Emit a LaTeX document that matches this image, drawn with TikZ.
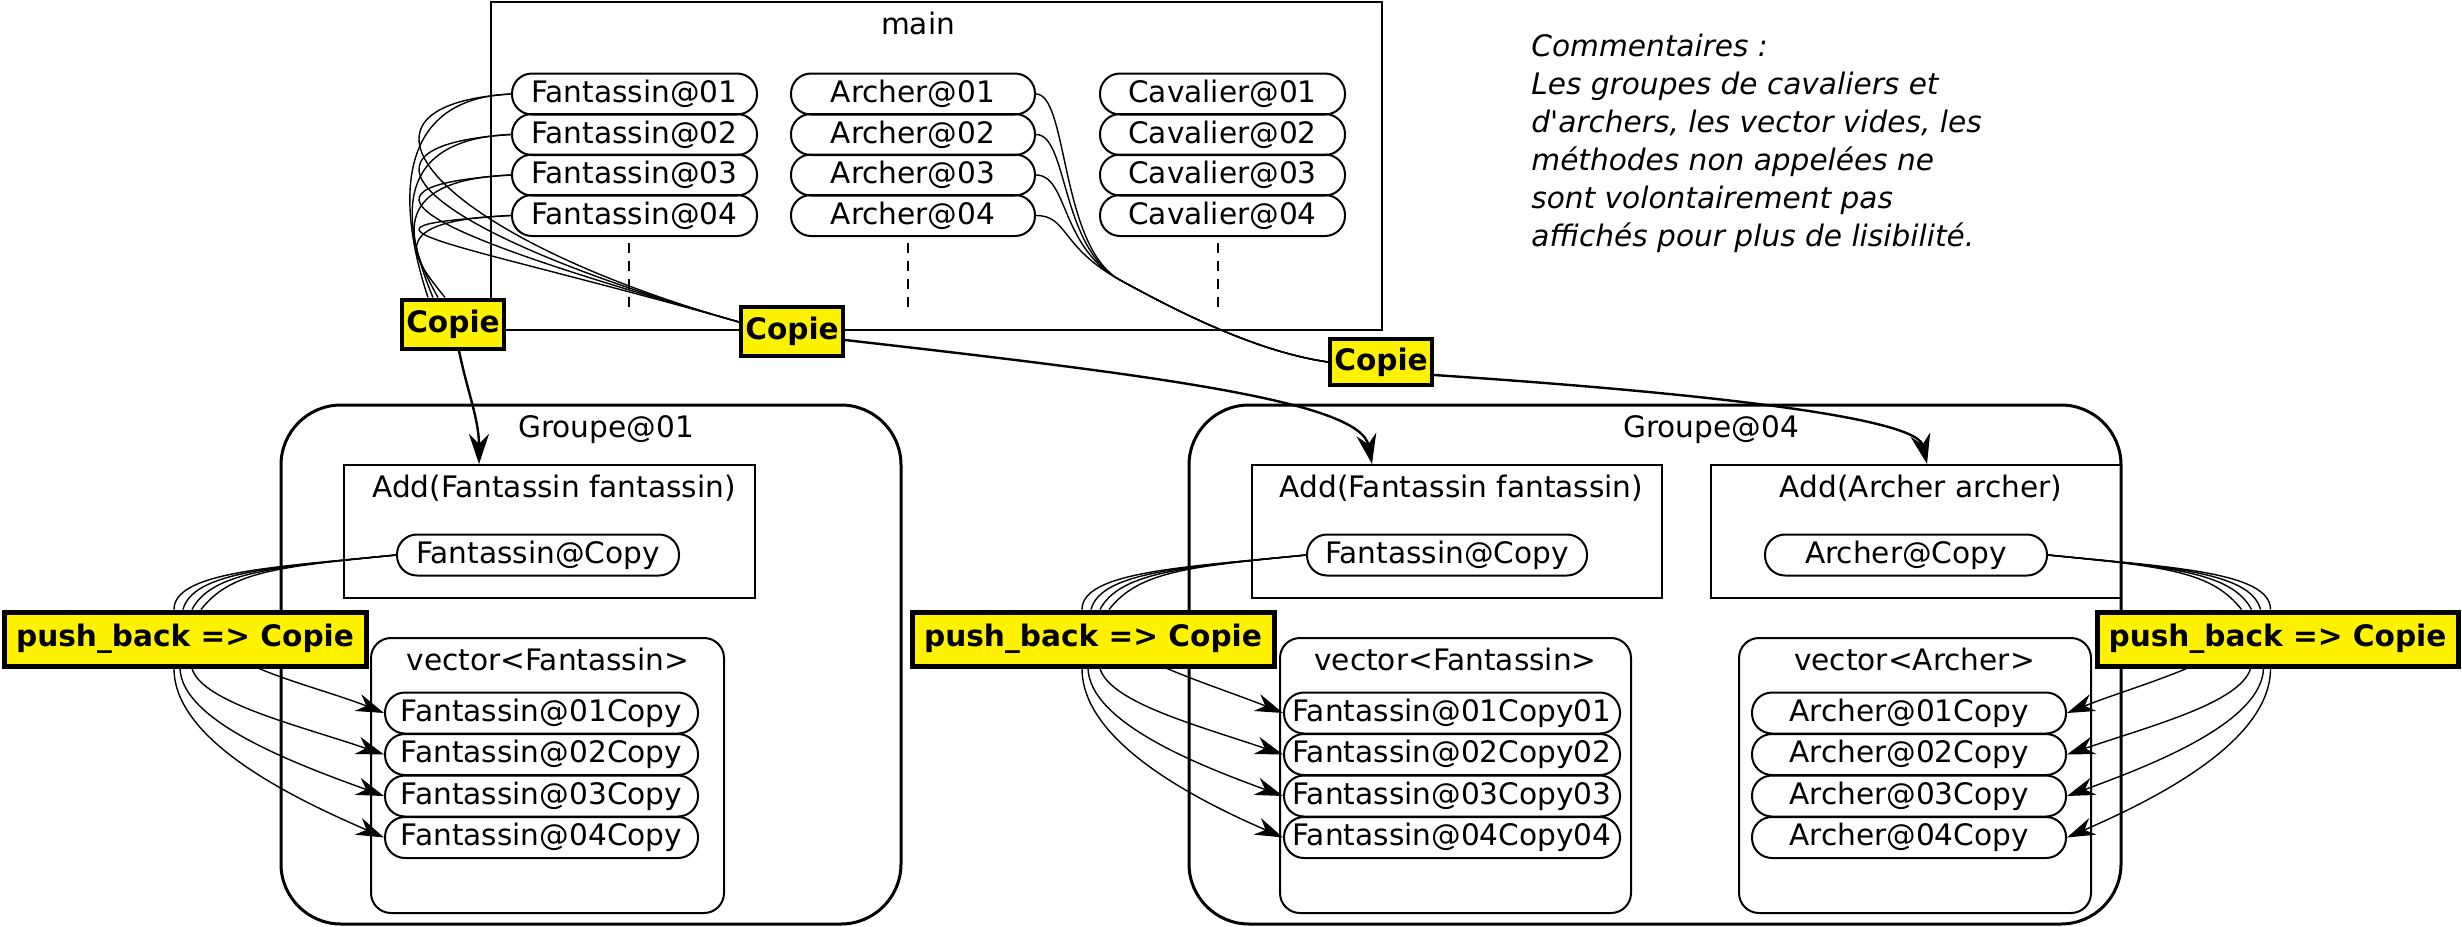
\documentclass[tikz,border=0pt]{standalone}
\usepackage{fontspec}
\setmainfont{DejaVu Sans}
\usetikzlibrary{arrows.meta,positioning,calc}
\newcommand{\diagfont}{\fontsize{14.8}{19}\selectfont}
\tikzset{pill/.style={draw,line width=1pt,rounded corners=10pt,minimum height=20.5pt,inner sep=1pt},
  box/.style={draw,line width=1pt},
  grp/.style={draw,line width=1.5pt,rounded corners=30pt},
  vec/.style={draw,line width=1pt,rounded corners=10pt},
  tag/.style={draw,line width=2pt,fill=yellow,font=\diagfont\bfseries,inner sep=1pt},
  wire/.style={line width=.7pt},
  feed/.style={line width=1.2pt,-{Stealth[length=15pt,width=10pt,inset=5pt]}},
  flow/.style={line width=.7pt,-{Stealth[length=14pt,width=9pt,inset=4.5pt]}}}

\begin{document}
\begin{tikzpicture}[x=.5pt,y=-.5pt,font=\diagfont]
\useasboundingbox (0,0) rectangle (2462,926);
% main and its soldiers
\node[box,line width=1.2pt,minimum width=445.5pt,minimum height=164pt] (main) at (936.5,166) {};
\node (mainname) at (918,23) {main};
\foreach \i in {1,...,4}{
  \node[pill,minimum width=122.5pt] (f\i) at (634.5,{94+40.5*(\i-1)}) {Fantassin@0\i};
  \node[pill,minimum width=122pt] (a\i) at (913,{94+40.5*(\i-1)}) {Archer@0\i};
  \node[pill,minimum width=122.5pt] (c\i) at (1222.5,{94+40.5*(\i-1)}) {Cavalier@0\i};
}
\foreach \x in {629,908,1218}
  \draw[line width=1pt,dash pattern=on 5pt off 4pt] (\x,243) -- (\x,314);

% Groupe@01 and Groupe@04
\node[grp,minimum width=310pt,minimum height=259.5pt] (grpA) at (591,664.5) {};
\node (grpAname) at (606,430) {Groupe@01};
\node[grp,minimum width=466pt,minimum height=259.5pt] (grpB) at (1655,664.5) {};
\node (grpBname) at (1711,430) {Groupe@04};

% Add methods
\node[box,minimum width=205.5pt,minimum height=66.5pt] (addA) at (549.5,531.5) {};
\node (addAname) at (554,488) {Add(Fantassin fantassin)};
\node[box,minimum width=205pt,minimum height=66.5pt] (addB) at (1457,531.5) {};
\node (addBname) at (1461.5,488) {Add(Fantassin fantassin)};
\node[box,minimum width=205pt,minimum height=66.5pt] (addC) at (1916,531.5) {};
\node (addCname) at (1921,488) {Add(Archer archer)};
\node[pill,minimum width=141pt] (fcA) at (538,555) {Fantassin@Copy};
\node[pill,minimum width=140pt] (fcB) at (1447,555) {Fantassin@Copy};
\node[pill,minimum width=141pt] (acC) at (1906,555) {Archer@Copy};

% vectors
\node[vec,minimum width=176.5pt,minimum height=137.5pt] (vecA) at (547.5,775.5) {};
\node (vecAname) at (548,659) {vector<Fantassin>};
\node[vec,minimum width=175.5pt,minimum height=137.5pt] (vecB) at (1455.5,775.5) {};
\node (vecBname) at (1455.5,659) {vector<Fantassin>};
\node[vec,minimum width=176pt,minimum height=137.5pt] (vecC) at (1915,775.5) {};
\node (vecCname) at (1914.5,659) {vector<Archer>};
\foreach \i in {1,...,4}{
  \node[pill,minimum width=156.5pt] (fa\i) at (541.5,{713+41.5*(\i-1)}) {Fantassin@0\i{}Copy};
  \node[pill,minimum width=168pt] (fb\i) at (1452,{713+41.5*(\i-1)}) {Fantassin@0\i{}Copy0\i};
  \node[pill,minimum width=157pt] (ac\i) at (1909,{713+41.5*(\i-1)}) {Archer@0\i{}Copy};
}

% edge labels
\node[tag,minimum width=51pt,minimum height=24.5pt] (copieA) at (453,324) {Copie};
\node[tag,minimum width=51pt,minimum height=24.5pt] (copieB) at (792,331) {Copie};
\node[tag,minimum width=51pt,minimum height=23pt] (copieC) at (1381,362) {Copie};
\node[tag,line width=2.5pt,minimum width=181pt,minimum height=27pt] (pbA) at (185,639) {push\_back => Copie};
\node[tag,line width=2.5pt,minimum width=181pt,minimum height=27pt] (pbB) at (1093,639) {push\_back => Copie};
\node[tag,line width=2.5pt,minimum width=180.5pt,minimum height=27pt] (pbC) at (2277.5,639) {push\_back => Copie};

% soldiers copied into the groups
\foreach \i/\d/\ex/\ey in {1/-25/-23/-69,2/-20/-25/-60,3/-15/-28/-50,4/-8/-32/-40}{
  \draw[wire] (f\i.west) .. controls +(-130,5) and +(\ex,\ey) .. ($(copieA.north)+(\d,0)$);
  \draw[wire] (f\i.west) .. controls +(-190,12) and +(-300,-85) .. ($(copieB.west)+(0,-9)$);
}
\coordinate (abend) at (1120,280);
\foreach \i in {1,...,4}
  \draw[wire] (a\i.east) .. controls +(32,0) and +(-60,-33) .. (abend)
    .. controls +(60,33) and +(-70,-10) .. (copieC.west);
\draw[feed] ($(copieA.south)+(6,0)$) .. controls +(8,40) and +(0,-45) .. ($(addA.north)+(-70.5,0)$);
\draw[feed] ($(copieB.east)+(0,9)$) .. controls +(307,35) and +(-12,-63) .. ($(addB.north)+(-85,0)$);
\draw[feed] ($(copieC.east)+(0,13)$) .. controls +(166,11) and +(-12,-53) .. ($(addC.north)+(11,0)$);

% push_back into the vectors
\foreach \d/\e in {-11/0,-2/10,7/20,16/30}{
  \draw[wire] (fcA.west) .. controls +(-120,12) and +(\e,-38) .. ($(pbA.north)+(\d,0)$);
  \draw[wire] (fcB.west) .. controls +(-120,12) and +(\e,-38) .. ($(pbB.north)+(\d,0)$);
}
\foreach \d/\e in {-36/30,-26/20,-17/10,-7/0}
  \draw[wire] (acC.east) .. controls +(120,12) and +(-\e,-38) .. ($(pbC.north)+(\d,0)$);
\foreach \i/\s/\ax/\ay/\bx/\by in {1/74/33/14/-45/-18,2/7/10/34/-85/-29,3/-5/2/54/-85/-31,4/-11/0/74/-85/-37}{
  \draw[flow] ($(pbA.south)+(\s,0)$) .. controls +(\ax,\ay) and +(\bx,\by) .. (fa\i.west);
  \draw[flow] ($(pbB.south)+(\s,0)$) .. controls +(\ax,\ay) and +(\bx,\by) .. (fb\i.west);
}
\foreach \i/\s/\ax/\ay/\bx/\by in {1/-91/-33/14/45/-18,2/-27/-10/34/85/-29,3/-14/-2/54/85/-31,4/-7/0/74/85/-37}
  \draw[flow] ($(pbC.south)+(\s,0)$) .. controls +(\ax,\ay) and +(\bx,\by) .. (ac\i.east);

% comment
\node[anchor=north west,inner sep=0pt,align=left,font=\diagfont\itshape] (note) at (1531,34)
  {Commentaires :\\Les groupes de cavaliers et\\d\textquotesingle archers, les vector vides, les\\méthodes non appelées ne\\sont volontairement pas\\affichés pour plus de lisibilité.};
\end{tikzpicture}
\end{document}
